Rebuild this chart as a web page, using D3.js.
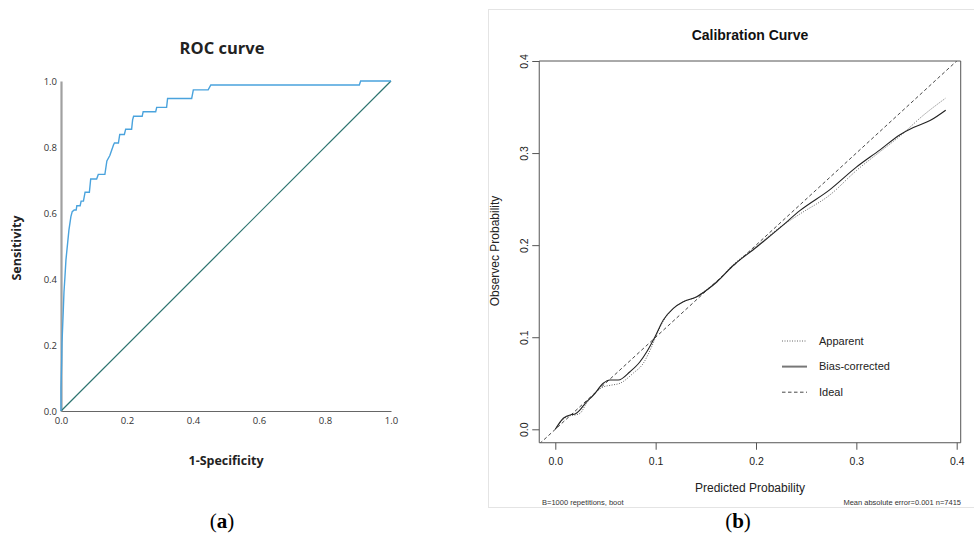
<!DOCTYPE html>
<html>
<head>
<meta charset="utf-8">
<script src="https://cdn.jsdelivr.net/npm/d3@7"></script>
<style>
  body { margin: 0; background: #fff; }
  svg { display: block; }
</style>
</head>
<body>
<div id="chart"></div>
<script>
// ROC curve (panel a)
var rocFpr = [0, 0, 0.002, 0.003, 0.007, 0.009, 0.012, 0.015, 0.02, 0.024, 0.03, 0.034, 0.04, 0.046,
  0.048, 0.058, 0.061, 0.068, 0.073, 0.086, 0.09, 0.108, 0.113, 0.133, 0.139, 0.148, 0.159, 0.162,
  0.174, 0.178, 0.192, 0.196, 0.214, 0.217, 0.22, 0.246, 0.249, 0.287, 0.29, 0.32, 0.323, 0.396,
  0.401, 0.446, 0.454, 0.904, 0.908, 1];
var rocTpr = [0, 0.07, 0.15, 0.205, 0.306, 0.36, 0.407, 0.458, 0.508, 0.548, 0.589, 0.604, 0.609, 0.609,
  0.622, 0.622, 0.636, 0.636, 0.663, 0.663, 0.703, 0.703, 0.717, 0.717, 0.758, 0.774, 0.806, 0.812,
  0.812, 0.838, 0.838, 0.854, 0.854, 0.882, 0.893, 0.893, 0.907, 0.907, 0.92, 0.92, 0.947, 0.947,
  0.973, 0.973, 0.988, 0.988, 1, 1];
var rocTicks = [0, 0.2, 0.4, 0.6, 0.8, 1.0];

// calibration curve (panel b)
var biasX = [0, 0.008, 0.016, 0.0196, 0.0246, 0.0296, 0.038, 0.0478, 0.0545, 0.0628, 0.0744, 0.0844,
  0.091, 0.0994, 0.1076, 0.1176, 0.1276, 0.141, 0.151, 0.161, 0.177, 0.2007, 0.224, 0.244, 0.2737,
  0.3, 0.3236, 0.3435, 0.3568, 0.3734, 0.389];
var biasY = [0, 0.012, 0.016, 0.0166, 0.021, 0.028, 0.037, 0.05, 0.0535, 0.0535, 0.0625, 0.0734,
  0.084, 0.1006, 0.1187, 0.1314, 0.1386, 0.144, 0.1513, 0.16, 0.1776, 0.198, 0.219, 0.2377, 0.2603,
  0.2847, 0.3035, 0.32, 0.3278, 0.3353, 0.3466];
var appX = [0, 0.008, 0.016, 0.0196, 0.0246, 0.031, 0.0478, 0.056, 0.0645, 0.0777, 0.0877, 0.096,
  0.0994, 0.1076, 0.1176, 0.1276, 0.141, 0.151, 0.161, 0.177, 0.2007, 0.224, 0.244, 0.2737, 0.3,
  0.3236, 0.3435, 0.3667, 0.389];
var appY = [0, 0.011, 0.015, 0.0155, 0.0173, 0.028, 0.046, 0.048, 0.05, 0.061, 0.0717, 0.0897,
  0.0985, 0.1175, 0.131, 0.1385, 0.144, 0.152, 0.161, 0.1785, 0.199, 0.2195, 0.234, 0.2546, 0.281,
  0.3015, 0.3185, 0.341, 0.3597];
var calTicks = [0, 0.1, 0.2, 0.3, 0.4];
var legendLabels = ["Apparent", "Bias-corrected", "Ideal"];

var width = 974, height = 539;

var svg = d3.select("#chart").append("svg")
  .attr("width", width)
  .attr("height", height);

svg.append("rect").attr("width", width).attr("height", height).attr("fill", "#fff");

// ---------- panel a ----------
var xA = d3.scaleLinear().domain([0, 1]).range([61, 391]);
var yA = d3.scaleLinear().domain([0, 1]).range([411, 81]);
var sans = "'Open Sans', 'Noto Sans', sans-serif";

var gA = svg.append("g");

gA.append("text")
  .attr("x", 222).attr("y", 54)
  .attr("text-anchor", "middle")
  .style("font-family", sans).style("font-weight", 700).style("font-size", "16.5px")
  .style("fill", "#222")
  .text("ROC curve");

// x axis
gA.append("g")
  .attr("transform", "translate(0," + yA(0) + ")")
  .call(d3.axisBottom(xA).tickValues(rocTicks).tickSize(0).tickPadding(6).tickFormat(d3.format(".1f")))
  .call(function(g) {
    g.select(".domain").attr("stroke", "#666").attr("stroke-width", 1.2);
    g.selectAll("text").style("font-family", sans).style("font-size", "9.5px").style("fill", "#333");
  });

// y axis
gA.append("g")
  .attr("transform", "translate(" + xA(0) + ",0)")
  .call(d3.axisLeft(yA).tickValues(rocTicks).tickSize(0).tickPadding(4).tickFormat(d3.format(".1f")))
  .call(function(g) {
    g.select(".domain").attr("stroke", "#a0a0a0").attr("stroke-width", 2.2);
    g.selectAll("text").style("font-family", sans).style("font-size", "9.5px").style("fill", "#333");
  });

// reference diagonal
gA.append("line")
  .attr("x1", xA(0)).attr("y1", yA(0))
  .attr("x2", xA(1)).attr("y2", yA(1))
  .attr("stroke", "#2d7470").attr("stroke-width", 1.2);

var rocData = rocFpr.map(function(d, i) { return {x: d, y: rocTpr[i]}; });
gA.append("path")
  .datum(rocData)
  .attr("fill", "none")
  .attr("stroke", "#4aa3dd")
  .attr("stroke-width", 1.4)
  .attr("d", d3.line().x(function(d) { return xA(d.x); }).y(function(d) { return yA(d.y); }));

gA.append("text")
  .attr("transform", "translate(21,248) rotate(-90)")
  .attr("text-anchor", "middle")
  .style("font-family", sans).style("font-weight", 700).style("font-size", "12.5px")
  .style("fill", "#222")
  .text("Sensitivity");

gA.append("text")
  .attr("x", 226).attr("y", 465)
  .attr("text-anchor", "middle")
  .style("font-family", sans).style("font-weight", 700).style("font-size", "12.5px")
  .style("fill", "#222")
  .text("1-Specificity");

// ---------- panel b ----------
var arial = "'Liberation Sans', Arial, sans-serif";
var xB = d3.scaleLinear().domain([0, 0.4]).range([555.3, 956.7]);
var yB = d3.scaleLinear().domain([0, 0.4]).range([429.3, 61]);
var box = {x0: xB(-0.016), x1: xB(0.404), y0: yB(0.4), y1: yB(-0.0146)};

var gB = svg.append("g");

// light frame of the figure panel
gB.append("rect")
  .attr("x", 488.5).attr("y", 9.5)
  .attr("width", 500).attr("height", 498)
  .attr("fill", "none").attr("stroke", "#e4e4e4");

gB.append("text")
  .attr("x", 750).attr("y", 40)
  .attr("text-anchor", "middle")
  .style("font-family", arial).style("font-weight", "bold").style("font-size", "14px")
  .style("fill", "#111")
  .text("Calibration Curve");

gB.append("clipPath").attr("id", "calclip")
  .append("rect")
  .attr("x", box.x0).attr("y", box.y0)
  .attr("width", box.x1 - box.x0).attr("height", box.y1 - box.y0);

var plot = gB.append("g").attr("clip-path", "url(#calclip)");

// ideal line
plot.append("line")
  .attr("x1", xB(-0.02)).attr("y1", yB(-0.02))
  .attr("x2", xB(0.42)).attr("y2", yB(0.42))
  .attr("stroke", "#333").attr("stroke-width", 0.9)
  .attr("stroke-dasharray", "3.5,2.5");

var lineB = d3.line().curve(d3.curveMonotoneX)
  .x(function(d) { return xB(d.x); }).y(function(d) { return yB(d.y); });

plot.append("path")
  .datum(appX.map(function(d, i) { return {x: d, y: appY[i]}; }))
  .attr("fill", "none").attr("stroke", "#555").attr("stroke-width", 0.9)
  .attr("stroke-dasharray", "1,1.5")
  .attr("d", lineB);

plot.append("path")
  .datum(biasX.map(function(d, i) { return {x: d, y: biasY[i]}; }))
  .attr("fill", "none").attr("stroke", "#222").attr("stroke-width", 1.1)
  .attr("d", lineB);

// box
gB.append("path")
  .attr("d", "M" + box.x1 + "," + box.y0 + "H" + box.x0 + "V" + box.y1 + "H" + box.x1 + "Z")
  .attr("fill", "none").attr("stroke", "#555").attr("stroke-width", 1);

// axes
gB.append("g")
  .attr("transform", "translate(0," + box.y1 + ")")
  .call(d3.axisBottom(xB).tickValues(calTicks).tickSize(7).tickPadding(8).tickFormat(d3.format(".1f")))
  .call(function(g) {
    g.select(".domain").remove();
    g.selectAll("line").attr("stroke", "#555");
    g.selectAll("text").style("font-family", arial).style("font-size", "10.5px").style("fill", "#222");
  });

gB.append("g")
  .attr("transform", "translate(" + box.x0 + ",0)")
  .call(d3.axisLeft(yB).tickValues(calTicks).tickSize(7).tickFormat(d3.format(".1f")))
  .call(function(g) {
    g.select(".domain").remove();
    g.selectAll("line").attr("stroke", "#555");
    g.selectAll("text")
      .attr("x", null)
      .attr("text-anchor", "middle")
      .attr("transform", "translate(-15,0) rotate(-90)")
      .attr("dy", "0.35em")
      .style("font-family", arial).style("font-size", "10.5px").style("fill", "#222");
  });

gB.append("text")
  .attr("transform", "translate(499,251) rotate(-90)")
  .attr("text-anchor", "middle")
  .style("font-family", arial).style("font-size", "12px").style("fill", "#222")
  .text("Observec Probability");

gB.append("text")
  .attr("x", 750).attr("y", 492)
  .attr("text-anchor", "middle")
  .style("font-family", arial).style("font-size", "12px").style("fill", "#222")
  .text("Predicted Probability");

gB.append("text")
  .attr("x", 542).attr("y", 504.5)
  .style("font-family", arial).style("font-size", "7.5px").style("fill", "#333")
  .text("B=1000 repetitions, boot");

gB.append("text")
  .attr("x", 961).attr("y", 504.5)
  .attr("text-anchor", "end")
  .style("font-family", arial).style("font-size", "7.5px").style("fill", "#333")
  .text("Mean absolute error=0.001 n=7415");

// legend
var legendDash = ["1,1.5", null, "3.5,2.5"];
var legendColor = ["#555", "#777", "#333"];
var leg = gB.selectAll(".leg").data(legendLabels).enter().append("g")
  .attr("class", "leg")
  .attr("transform", function(d, i) { return "translate(782," + (341 + i * 25.6) + ")"; });
leg.append("line")
  .attr("x1", 0).attr("x2", 25)
  .attr("stroke", function(d, i) { return legendColor[i]; })
  .attr("stroke-width", function(d, i) { return i == 1 ? 2 : 0.9; })
  .attr("stroke-dasharray", function(d, i) { return legendDash[i]; });
leg.append("text")
  .attr("x", 37).attr("dy", "0.35em")
  .style("font-family", arial).style("font-size", "11px").style("fill", "#222")
  .text(function(d) { return d; });

// panel captions
var serif = "'Liberation Serif', 'DejaVu Serif', serif";
var captions = ["a", "b"];
var capX = [222, 738];
svg.selectAll(".cap").data(captions).enter().append("text")
  .attr("class", "cap")
  .attr("x", function(d, i) { return capX[i]; }).attr("y", 528)
  .attr("text-anchor", "middle")
  .style("font-family", serif).style("font-size", "21px").style("fill", "#000")
  .each(function(d) {
    var t = d3.select(this);
    t.append("tspan").text("(");
    t.append("tspan").style("font-weight", "bold").text(d);
    t.append("tspan").text(")");
  });
</script>
</body>
</html>
